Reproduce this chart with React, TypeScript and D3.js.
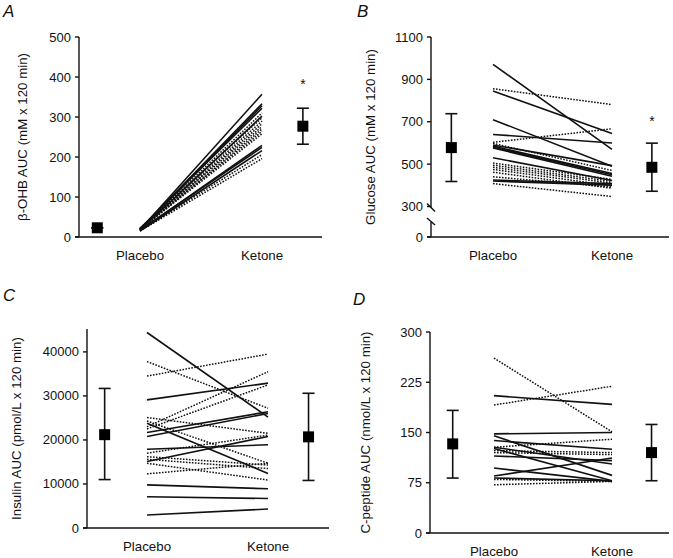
import React from 'react';
import * as d3 from 'd3';

const groups = ['Placebo', 'Ketone'];

// A: beta-OHB AUC, pairs are [placebo, ketone]
const ohbTicks = [0, 100, 200, 300, 400, 500];
const ohbSolid = [[18, 357], [20, 333], [19, 328], [21, 322], [17, 302], [16, 229], [18, 224], [15, 216]];
const ohbDotted = [[20, 310], [22, 298], [19, 290], [18, 283], [21, 276], [17, 270], [20, 264], [19, 258], [16, 206], [15, 196]];
const ohbMean = [23, 277];
const ohbLow = [23, 232];
const ohbHigh = [23, 322];

// B: glucose AUC
const gluTicks = [0, 300, 500, 700, 900, 1100];
const gluSolid = [[971, 570], [845, 644], [710, 490], [640, 600], [590, 493], [585, 456], [580, 450], [576, 443], [530, 423], [425, 408], [420, 401]];
const gluDotted = [[856, 781], [603, 667], [598, 470], [505, 428], [495, 418], [485, 410], [475, 398], [462, 386], [440, 392], [408, 347]];
const gluMean = [578, 485];
const gluLow = [418, 372];
const gluHigh = [738, 599];

// C: insulin AUC
const insTicks = [0, 10000, 20000, 30000, 40000];
const insSolid = [[44400, 25200], [29100, 32900], [23800, 12400], [21700, 26400], [20800, 26000], [17900, 18900], [15100, 20800], [9800, 8900], [7100, 6700], [2950, 4300]];
const insDotted = [[37800, 27200], [34500, 39500], [25100, 21500], [23000, 35500], [22500, 32500], [24300, 14700], [17000, 21100], [16200, 14300], [15600, 13500], [12300, 14700], [14700, 10900]];
const insMean = [21200, 20700];
const insLow = [11000, 10800];
const insHigh = [31700, 30600];

// D: C-peptide AUC
const cpTicks = [0, 75, 150, 225, 300];
const cpSolid = [[205, 192], [148, 150], [145, 86], [138, 125], [128, 103], [126, 78], [115, 108], [97, 77], [85, 112], [82, 78]];
const cpDotted = [[261, 151], [191, 219], [128, 140], [123, 120], [120, 117], [80, 77], [72, 77]];
const cpMean = [133, 120];
const cpLow = [82, 78];
const cpHigh = [183, 162];

const FONT = 'Liberation Sans, Arial, Helvetica, sans-serif';
const INK = '#111';

interface PanelProps {
  letter: string;
  letterX: number;
  letterY: number;
  title: string;
  titleX: number;
  left: number;
  right: number;
  top: number;
  bottom: number;
  lineL: number;
  lineR: number;
  yMax: number;
  ticks: number[];
  solid: number[][];
  dotted: number[][];
  mean: number[];
  low: number[];
  high: number[];
  star?: number;
  broken?: boolean;
}

const Panel = (p: PanelProps) => {
  const x = d3.scaleLinear().domain([0, 1]).range([p.lineL, p.lineR]);
  const meanPos = [-0.35, 1.335];
  const y = p.broken
    ? d3.scaleLinear().domain([0, 300, p.yMax]).range([p.bottom, p.bottom - 30.5, p.top])
    : d3.scaleLinear().domain([0, p.yMax]).range([p.bottom, p.top]);
  const line = d3.line<number>().x((_, i) => x(i)).y((d) => y(d));
  const brkTop = y(300) + 1;
  const brkBot = p.bottom - 15;
  const sq = 11;
  const cap = 6;

  return (
    <g>
      <text x={p.letterX} y={p.letterY} fontSize={17} fontStyle="italic" fontFamily={FONT} fill={INK}>{p.letter}</text>
      <text
        transform={`translate(${p.titleX},${(p.top + p.bottom) / 2}) rotate(-90)`}
        textAnchor="middle"
        fontSize={13.3}
        fontFamily={FONT}
        fill={INK}
      >{p.title}</text>

      {/* y axis */}
      {p.broken ? (
        <g stroke={INK} strokeWidth={1.4} fill="none">
          <line x1={p.left} x2={p.left} y1={p.top} y2={brkTop} />
          <line x1={p.left - 4} x2={p.left + 4} y1={brkTop - 4} y2={brkTop + 4} />
          <line x1={p.left} x2={p.left} y1={brkBot} y2={p.bottom} />
          <line x1={p.left - 4} x2={p.left + 4} y1={brkBot - 4} y2={brkBot + 3} />
        </g>
      ) : (
        <line x1={p.left} x2={p.left} y1={p.top} y2={p.bottom} stroke={INK} strokeWidth={1.4} />
      )}
      {p.ticks.map((t) => (
        <g key={t}>
          <line x1={p.left - 4} x2={p.left} y1={y(t)} y2={y(t)} stroke={INK} strokeWidth={1.4} />
          <text x={p.left - 8} y={y(t) + 4.5} textAnchor="end" fontSize={13} fontFamily={FONT} fill={INK}>{t}</text>
        </g>
      ))}
      {/* x axis */}
      <line x1={p.left - 4} x2={p.right} y1={p.bottom} y2={p.bottom} stroke={INK} strokeWidth={1.4} />
      {groups.map((g, i) => (
        <text key={g} x={x(i)} y={p.bottom + 23} textAnchor="middle" fontSize={13.3} fontFamily={FONT} fill={INK}>{g}</text>
      ))}

      {/* individual subjects */}
      {p.dotted.map((d, i) => (
        <path key={'d' + i} d={line(d) || ''} fill="none" stroke={INK} strokeWidth={1.5} strokeDasharray="1.6 1.4" />
      ))}
      {p.solid.map((d, i) => (
        <path key={'s' + i} d={line(d) || ''} fill="none" stroke={INK} strokeWidth={1.6} />
      ))}

      {/* group means with error bars */}
      {p.mean.map((m, i) => {
        const cx = x(meanPos[i]);
        return (
          <g key={'m' + i}>
            <g stroke={INK} strokeWidth={1.6}>
              <line x1={cx} x2={cx} y1={y(p.low[i])} y2={y(p.high[i])} />
              <line x1={cx - cap} x2={cx + cap} y1={y(p.low[i])} y2={y(p.low[i])} />
              <line x1={cx - cap} x2={cx + cap} y1={y(p.high[i])} y2={y(p.high[i])} />
            </g>
            <rect x={cx - sq / 2} y={y(m) - sq / 2} width={sq} height={sq} fill="#000" />
          </g>
        );
      })}
      {p.star !== undefined && (
        <text x={x(meanPos[1])} y={y(p.star) + 8} textAnchor="middle" fontSize={14} fontFamily={FONT} fill={INK}>*</text>
      )}
    </g>
  );
};

const App = () => (
  <svg width={673} height={558} style={{ position: 'absolute', left: 0, top: 0, background: '#fff' }}>
    <Panel
      letter="A" letterX={3} letterY={17}
      title="β-OHB  AUC (mM x 120 min)" titleX={27}
      left={79} right={322} top={37} bottom={237} lineL={140} lineR={262}
      yMax={500} ticks={ohbTicks} solid={ohbSolid} dotted={ohbDotted}
      mean={ohbMean} low={ohbLow} high={ohbHigh} star={389}
    />
    <Panel
      letter="B" letterX={357} letterY={17}
      title="Glucose AUC (mM x 120 min)" titleX={375}
      left={431} right={669} top={37} bottom={237} lineL={493} lineR={612}
      yMax={1100} ticks={gluTicks} solid={gluSolid} dotted={gluDotted}
      mean={gluMean} low={gluLow} high={gluHigh} star={719} broken
    />
    <Panel
      letter="C" letterX={3} letterY={301}
      title="Insulin AUC (pmol/L x 120 min)" titleX={21}
      left={87} right={329} top={329} bottom={528} lineL={147} lineR={268}
      yMax={45200} ticks={insTicks} solid={insSolid} dotted={insDotted}
      mean={insMean} low={insLow} high={insHigh}
    />
    <Panel
      letter="D" letterX={353} letterY={305}
      title="C-peptide AUC (nmol/L x 120 min)" titleX={370}
      left={430} right={669} top={332} bottom={533} lineL={494} lineR={612}
      yMax={300} ticks={cpTicks} solid={cpSolid} dotted={cpDotted}
      mean={cpMean} low={cpLow} high={cpHigh}
    />
  </svg>
);

export default App;
